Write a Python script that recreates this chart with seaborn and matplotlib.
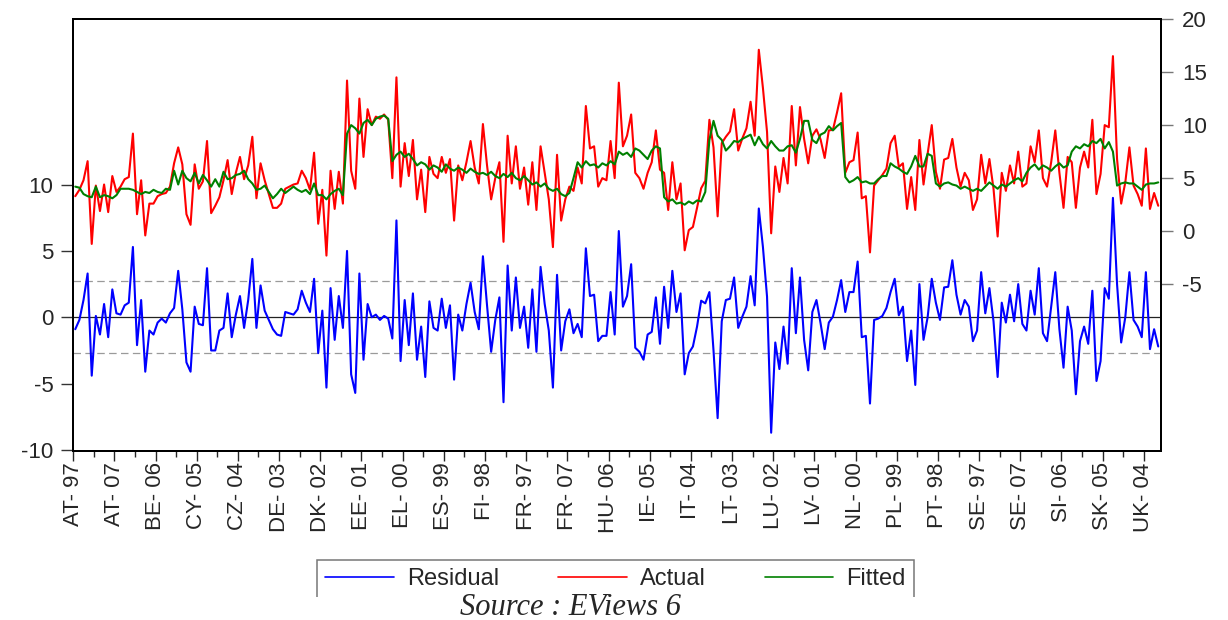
import numpy as np
import pandas as pd
import matplotlib
matplotlib.use("Agg")
import matplotlib.pyplot as plt
import seaborn as sns
from matplotlib.patches import Rectangle
from matplotlib.lines import Line2D

sns.set_style("white")
plt.rcParams['font.family'] = ['Liberation Sans', 'DejaVu Sans']
plt.rcParams['axes.unicode_minus'] = False

# ---------------- data ----------------
countries = ["AT", "BE", "CY", "CZ", "DE", "DK", "EE", "EL", "ES", "FI", "FR", "HU",
             "IE", "IT", "LT", "LU", "LV", "NL", "PL", "PT", "SE", "SI", "SK", "UK"]
years = ["97", "98", "99", "00", "01", "02", "03", "04", "05", "06", "07"]

actual = [
    3.3, 3.9, 4.8, 6.6, -1.2, 4.3, 1.9, 4.4, 1.8, 5.2, 3.7,        # AT
    4.2, 4.9, 5.1, 9.2, 1.6, 4.8, -0.4, 2.6, 2.6, 3.3, 3.5,         # BE
    3.6, 4.2, 6.4, 7.9, 6.3, 1.6, 0.6, 6.3, 4.0, 4.7, 8.5,          # CY
    1.7, 2.4, 3.2, 4.8, 6.7, 3.5, 5.5, 7.0, 4.9, 6.2, 8.9,          # CZ
    3.1, 6.4, 4.8, 3.5, 2.2, 2.2, 2.6, 4.0, 4.2, 4.4, 4.5,          # DE
    5.7, 5.0, 3.9, 7.4, 0.7, 3.9, -2.3, 5.7, 2.1, 5.6, 2.6,         # DK
    14.2, 5.7, 4.0, 12.5, 7.0, 11.5, 10.0, 10.8, 10.6, 11.0, 10.5,  # EE
    5.0, 14.5, 4.2, 8.3, 5.2, 8.6, 3.0, 5.8, 1.8, 7.0, 5.4,         # EL
    5.0, 7.0, 5.5, 6.8, 1.0, 6.2, 4.8, 6.5, 8.5, 6.0, 4.5,          # ES
    10.1, 6.2, 3.0, 5.0, 6.5, -1.0, 9.0, 4.5, 8.0, 4.0, 6.0,        # FI
    2.5, 6.5, 2.0, 8.0, 5.5, 3.0, -1.5, 7.2, 1.0, 3.0, 4.2,         # FR
    3.8, 6.0, 4.5, 11.8, 7.8, 8.0, 4.2, 5.0, 4.8, 8.5, 5.0,         # HU
    14.0, 8.0, 9.0, 11.0, 5.5, 5.0, 4.0, 5.5, 6.5, 9.5, 5.8,        # IE
    5.5, 2.0, 6.5, 3.0, 4.5, -1.8, 0.1, 0.4, 2.2, 4.05, 4.75,       # IT
    10.5, 7.9, 1.4, 8.3, 8.9, 9.4, 11.5, 7.6, 8.75, 9.7, 12.2,      # LT
    9.0, 17.1, 13.5, 9.35, -0.2, 6.1, 3.7, 6.9, 4.5, 11.8, 6.2,     # LU
    11.7, 8.7, 6.4, 9.0, 9.6, 8.65, 6.9, 9.5, 9.55, 11.2, 13.0,     # LV
    5.5, 6.5, 6.7, 9.3, 3.1, 3.3, -2.0, 4.3, 4.8, 5.3, 5.9,         # NL
    8.3, 9.0, 6.05, 6.4, 2.1, 5.1, 2.0, 8.6, 4.4, 7.3, 10.0,        # PL
    5.6, 4.0, 6.75, 6.9, 8.7, 6.0, 4.2, 5.5, 4.8, 2.0, 3.0,         # PT
    7.2, 4.5, 6.8, 4.0, -0.5, 5.5, 3.8, 6.2, 4.5, 7.5, 4.2,         # SE
    4.5, 8.0, 6.5, 9.5, 5.0, 4.2, 6.5, 9.5, 5.5, 2.2, 7.0,          # SI
    6.5, 2.2, 6.0, 7.5, 6.0, 10.5, 3.5, 5.4, 10.0, 9.8, 16.5,       # SK
    6.8, 2.6, 4.6, 7.9, 4.3, 3.5, 2.4, 7.8, 2.1, 3.6, 2.4,          # UK
]

fitted = [
    4.2, 4.1, 3.5, 3.3, 3.2, 4.2, 3.2, 3.4, 3.3, 3.1, 3.4,          # AT
    4.0, 4.0, 4.0, 3.9, 3.7, 3.5, 3.7, 3.6, 3.9, 3.7, 3.6,          # BE
    4.0, 3.9, 5.7, 4.4, 5.7, 5.0, 4.7, 5.5, 4.5, 5.3, 4.8,          # CY
    4.2, 4.9, 4.2, 5.6, 4.9, 5.0, 5.3, 5.4, 5.7, 4.9, 4.5,          # CZ
    3.9, 4.0, 4.3, 3.7, 3.1, 3.5, 4.0, 3.6, 3.9, 4.2, 3.9,          # DE
    3.7, 3.9, 3.5, 4.5, 3.4, 3.4, 3.0, 3.5, 3.8, 4.0, 3.4,          # DK
    9.2, 10.0, 9.7, 9.2, 10.2, 10.5, 10.0, 10.6, 10.8, 10.9, 10.6,  # EE
    6.6, 7.2, 7.5, 7.0, 7.3, 6.8, 6.2, 6.5, 6.3, 5.8, 6.2,          # EL
    6.0, 5.6, 6.3, 5.9, 5.7, 6.0, 5.8, 5.5, 5.9, 5.6, 5.4,          # ES
    5.5, 5.3, 5.6, 5.2, 5.0, 5.4, 5.1, 5.5, 5.0, 4.8, 5.2,          # FI
    4.8, 4.4, 4.6, 4.2, 4.5, 4.0, 3.8, 4.0, 3.5, 3.3, 3.6,          # FR
    5.0, 6.5, 6.0, 6.6, 6.2, 6.3, 6.0, 6.4, 6.2, 6.6, 6.3,          # HU
    7.5, 7.2, 7.4, 7.0, 7.8, 7.6, 7.2, 6.8, 7.6, 8.0, 7.8,          # IE
    3.2, 2.8, 3.0, 2.6, 2.7, 2.5, 2.8, 2.6, 2.9, 2.8, 3.7,          # IT
    8.6, 10.4, 9.0, 8.6, 7.6, 8.0, 8.5, 8.4, 8.7, 8.9, 9.1,         # LT
    8.1, 8.9, 8.2, 7.8, 8.5, 8.0, 7.6, 7.6, 8.0, 8.1, 7.4,          # LU
    8.7, 10.4, 10.4, 8.6, 8.3, 9.1, 9.3, 9.9, 9.5, 9.9, 10.2,       # LV
    5.1, 4.6, 4.8, 5.1, 4.6, 4.7, 4.5, 4.5, 4.9, 5.2, 5.2,          # NL
    6.4, 6.1, 5.9, 5.6, 5.4, 6.1, 7.1, 6.1, 6.1, 7.3, 7.1,          # PL
    4.5, 4.2, 4.5, 4.6, 4.4, 4.3, 4.0, 4.2, 4.0, 3.8, 4.0,          # PT
    3.8, 4.2, 4.6, 4.3, 4.0, 4.4, 4.2, 4.5, 4.8, 5.0, 4.7,          # SE
    5.5, 6.0, 6.3, 5.8, 6.2, 6.0, 5.7, 6.1, 6.4, 6.0, 6.2,          # SI
    7.5, 8.0, 7.8, 8.2, 8.0, 8.5, 8.3, 8.7, 7.8, 8.4, 7.5,          # SK
    4.3, 4.5, 4.6, 4.5, 4.5, 4.2, 3.9, 4.4, 4.5, 4.5, 4.6,          # UK
]

residual_se = 2.71   # standard error band of the residual (dashed lines)

obs_labels = [f"{c}- {y}" for c in countries for y in years]
n = len(actual)
df = pd.DataFrame({
    "obs": np.arange(n) + 0.5,
    "Actual": actual,
    "Fitted": fitted,
})
df["Residual"] = df["Actual"] - df["Fitted"]

# ---------------- figure ----------------
W, H = 1228, 620
fig = plt.figure(figsize=(W / 100, H / 100), dpi=100)
left, right, top, bottom = 73.2, 1160.7, 19.0, 450.5
ax = fig.add_axes([left / W, 1 - bottom / H, (right - left) / W, (bottom - top) / H])
ax2 = ax.twinx()

sns.lineplot(data=df, x="obs", y="Residual", ax=ax, color="#0000FF", lw=1.5)
ax.axhline(0, color="#222222", lw=0.9, zorder=1)
for v in (residual_se, -residual_se):
    ax.axhline(v, color="#9a9a9a", lw=0.9, ls=(0, (6, 3.5)), zorder=1)

sns.lineplot(data=df, x="obs", y="Actual", ax=ax2, color="#FF0000", lw=1.5)
sns.lineplot(data=df, x="obs", y="Fitted", ax=ax2, color="#008000", lw=1.5)

ax.set_xlim(0, 264.1)
ax.set_ylim(-10.04, 22.48)
ax2.set_ylim(-20.67, 20.0)

ax.set_yticks([-10, -5, 0, 5, 10])
ax2.set_yticks([-5, 0, 5, 10, 15, 20])
major = list(range(0, n, 10))
ax.set_xticks(major)
ax.set_xticklabels([obs_labels[i] for i in major])
ax.set_xticks(list(range(5, n, 10)), minor=True)

for a in (ax, ax2):
    a.set_xlabel("")
    a.set_ylabel("")
    for s in a.spines.values():
        s.set_linewidth(1.4)
        s.set_color("black")

ax.tick_params(axis="x", which="major", direction="out", length=7, width=1,
               pad=1.5, labelrotation=90, labelsize=16, bottom=True)
ax.tick_params(axis="x", which="minor", direction="out", length=4.3, width=1, bottom=True)
ax.tick_params(axis="y", direction="out", length=8.6, width=1, pad=5.5,
               labelsize=16, left=True, color="#333333")
ax2.tick_params(axis="y", direction="out", length=8.6, width=1, pad=7,
                labelsize=16, right=True, color="#777777")

# ---------------- legend ----------------
handles = [Line2D([], [], color="#0000FF", lw=1.2),
           Line2D([], [], color="#FF0000", lw=1.2),
           Line2D([], [], color="#008000", lw=1.2)]
leg = fig.legend(handles, ["Residual", "Actual", "Fitted"], ncol=3,
                 loc="upper left",
                 bbox_to_anchor=(317 / W, 1 - 560 / H - 0.05, (914 - 317) / W, 0.05),
                 mode="expand", frameon=True, fancybox=False, edgecolor="#555555",
                 fontsize=17, handlelength=2.9, handletextpad=0.55,
                 borderaxespad=0, borderpad=0.35)
leg.get_frame().set_linewidth(1.1)
leg.set_zorder(5)

fig.add_artist(Rectangle((0, 0), 1, 1 - 597 / H, transform=fig.transFigure,
                         facecolor="white", edgecolor="none", zorder=6))
fig.text(570 / W, 1 - 615 / H, "Source : EViews 6", ha="center", va="baseline",
         fontsize=22, style="italic", family=["Liberation Serif", "DejaVu Serif"],
         zorder=7)

fig.savefig("out.png", dpi=100)
